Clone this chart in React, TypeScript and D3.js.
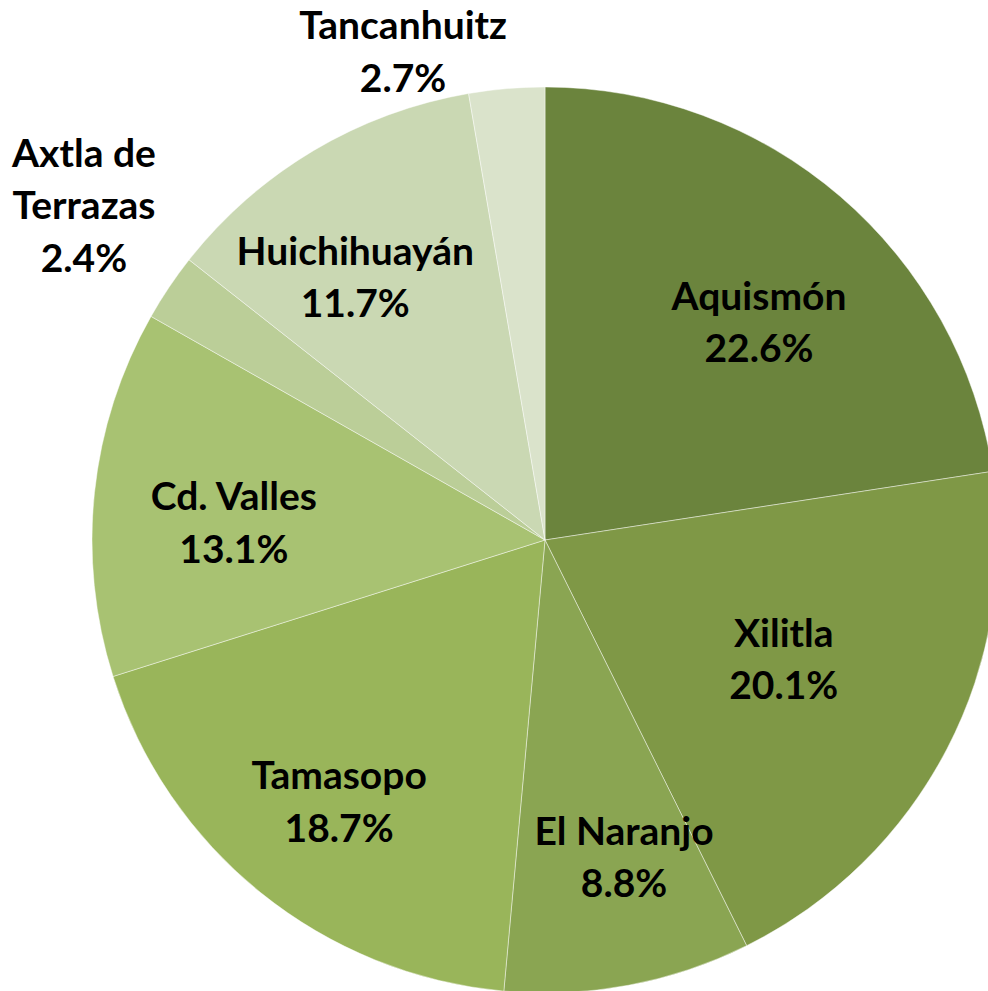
import React from "react";
import * as d3 from "d3";

const categories = ["Aquismón", "Xilitla", "El Naranjo", "Tamasopo", "Cd. Valles", "Axtla de Terrazas", "Huichihuayán", "Tancanhuitz"];
const values = [22.6, 20.1, 8.8, 18.7, 13.1, 2.4, 11.7, 2.7];
const valueLabels = ["22.6%", "20.1%", "8.8%", "18.7%", "13.1%", "2.4%", "11.7%", "2.7%"];
const nameLines = [["Aquismón"], ["Xilitla"], ["El Naranjo"], ["Tamasopo"], ["Cd. Valles"], ["Axtla de", "Terrazas"], ["Huichihuayán"], ["Tancanhuitz"]];
const colors = ["#6b843d", "#7f9846", "#8aa552", "#99b55a", "#a8c272", "#bbce98", "#cad8b3", "#dae3cb"];
// label placement: polar angle (deg, clockwise from top) and radius factor relative to pie radius
const labelAngles = [44.5, 116.5, 166, 218.2, 273.2, 306.0, 324.2, 343.8];
const labelRadii = [0.674, 0.589, 0.721, 0.735, 0.688, 1.258, 0.716, 1.123];

export default function App() {
  const W = 988, H = 991;
  const cx = 545, cy = 540, R = 453;
  const lineH = 52.5;
  const pie = d3.pie<number>().sort(null).value((d) => d)(values);
  const arc = d3.arc<d3.PieArcDatum<number>>().innerRadius(0).outerRadius(R);
  return (
    <svg width={W} height={H} style={{ position: "absolute", left: 0, top: 0, background: "#fff" }}>
      <g transform={`translate(${cx},${cy})`}>
        {pie.map((p, i) => (
          <path key={categories[i]} d={arc(p) || ""} fill={colors[i]} stroke="#ffffff" strokeOpacity={0.55} strokeWidth={0.8} />
        ))}
        {pie.map((p, i) => {
          const a = (labelAngles[i] * Math.PI) / 180;
          const r = labelRadii[i] * R;
          const x = Math.sin(a) * r;
          const y = -Math.cos(a) * r;
          const lines = [...nameLines[i], valueLabels[i]];
          const n = lines.length;
          return (
            <text key={"l" + i} x={x} textAnchor="middle" fontFamily="Lato, 'Open Sans', sans-serif" fontWeight={700} fontSize={39} fill="#000">
              {lines.map((t, j) => (
                <tspan key={j} x={x} y={y + (j - (n - 1) / 2) * lineH + 14}>{t}</tspan>
              ))}
            </text>
          );
        })}
      </g>
    </svg>
  );
}
